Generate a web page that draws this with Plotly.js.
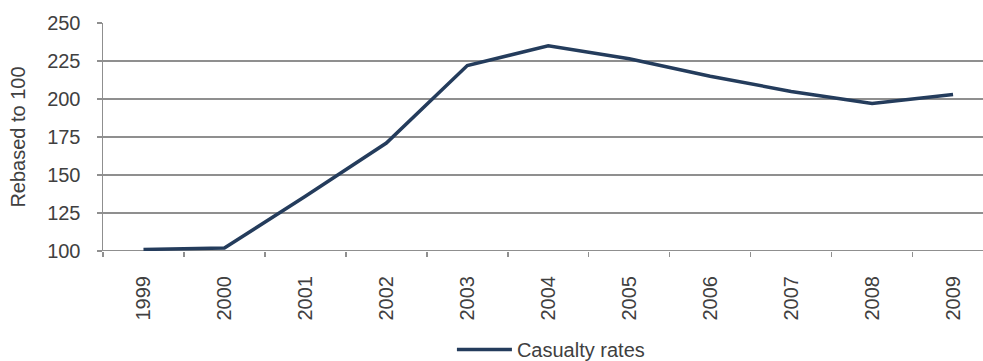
<!DOCTYPE html>
<html>
<head>
<meta charset="utf-8">
<script src="https://cdn.plot.ly/plotly-3.0.1.min.js"></script>
<style>
  html, body { margin: 0; padding: 0; background: #fff; overflow: hidden; }
  #chart { width: 983px; height: 361px; }
</style>
</head>
<body>
<div id="chart"></div>
<script>
// Casualty rates, rebased so that 1999 = 100
const years = ['1999', '2000', '2001', '2002', '2003', '2004', '2005', '2006', '2007', '2008', '2009'];
const casualtyRates = [101, 102, 136, 171, 222, 235, 226.5, 215, 205, 197, 203];
const seriesName = 'Casualty rates';
const yTickValues = [100, 125, 150, 175, 200, 225, 250];

const textColor = '#404040';
const gridColor = '#8f8f8f';
const fontFamily = '"Liberation Sans", Arial, sans-serif';

const trace = {
  x: years,
  y: casualtyRates,
  type: 'scatter',
  mode: 'lines',
  name: seriesName,
  line: { color: '#243c5c', width: 3.5 },
  hoverinfo: 'x+y'
};

const layout = {
  width: 983,
  height: 361,
  margin: { l: 103, r: 0, t: 23, b: 110, pad: 0, autoexpand: false },
  paper_bgcolor: '#ffffff',
  plot_bgcolor: '#ffffff',
  font: { family: fontFamily, color: textColor, size: 19 },
  showlegend: true,
  legend: {
    orientation: 'h',
    x: 0.509,
    xanchor: 'center',
    y: -0.432,
    yanchor: 'middle',
    font: { family: fontFamily, size: 20, color: textColor },
    itemwidth: 55,
    bgcolor: 'rgba(0,0,0,0)'
  },
  xaxis: {
    type: 'category',
    range: [-0.5, 10.37],
    showgrid: false,
    zeroline: false,
    showline: false,
    ticks: 'outside',
    tickson: 'boundaries',
    ticklen: 5,
    tickwidth: 1.5,
    tickcolor: gridColor,
    tickangle: -90,
    ticklabelstandoff: 20,
    tickfont: { family: fontFamily, size: 20, color: textColor },
    automargin: false,
    fixedrange: true
  },
  yaxis: {
    range: [100, 250],
    tickvals: yTickValues,
    ticktext: yTickValues.map(String),
    showgrid: true,
    gridcolor: gridColor,
    gridwidth: 1.4,
    zeroline: false,
    showline: true,
    linecolor: gridColor,
    linewidth: 1.5,
    ticks: 'outside',
    ticklen: 5,
    tickwidth: 1.5,
    tickcolor: gridColor,
    ticklabelstandoff: 12,
    tickfont: { family: fontFamily, size: 20, color: textColor },
    title: {
      text: 'Rebased to 100',
      font: { family: fontFamily, size: 20, color: textColor },
      standoff: 16
    },
    automargin: false,
    fixedrange: true
  },
  shapes: [
    {
      // x axis baseline at 100
      type: 'line', xref: 'paper', yref: 'y',
      x0: 0, x1: 1, y0: 100, y1: 100,
      line: { color: gridColor, width: 2 },
      layer: 'below'
    }
  ]
};

Plotly.newPlot('chart', [trace], layout, { displayModeBar: false, staticPlot: true });
</script>
</body>
</html>
